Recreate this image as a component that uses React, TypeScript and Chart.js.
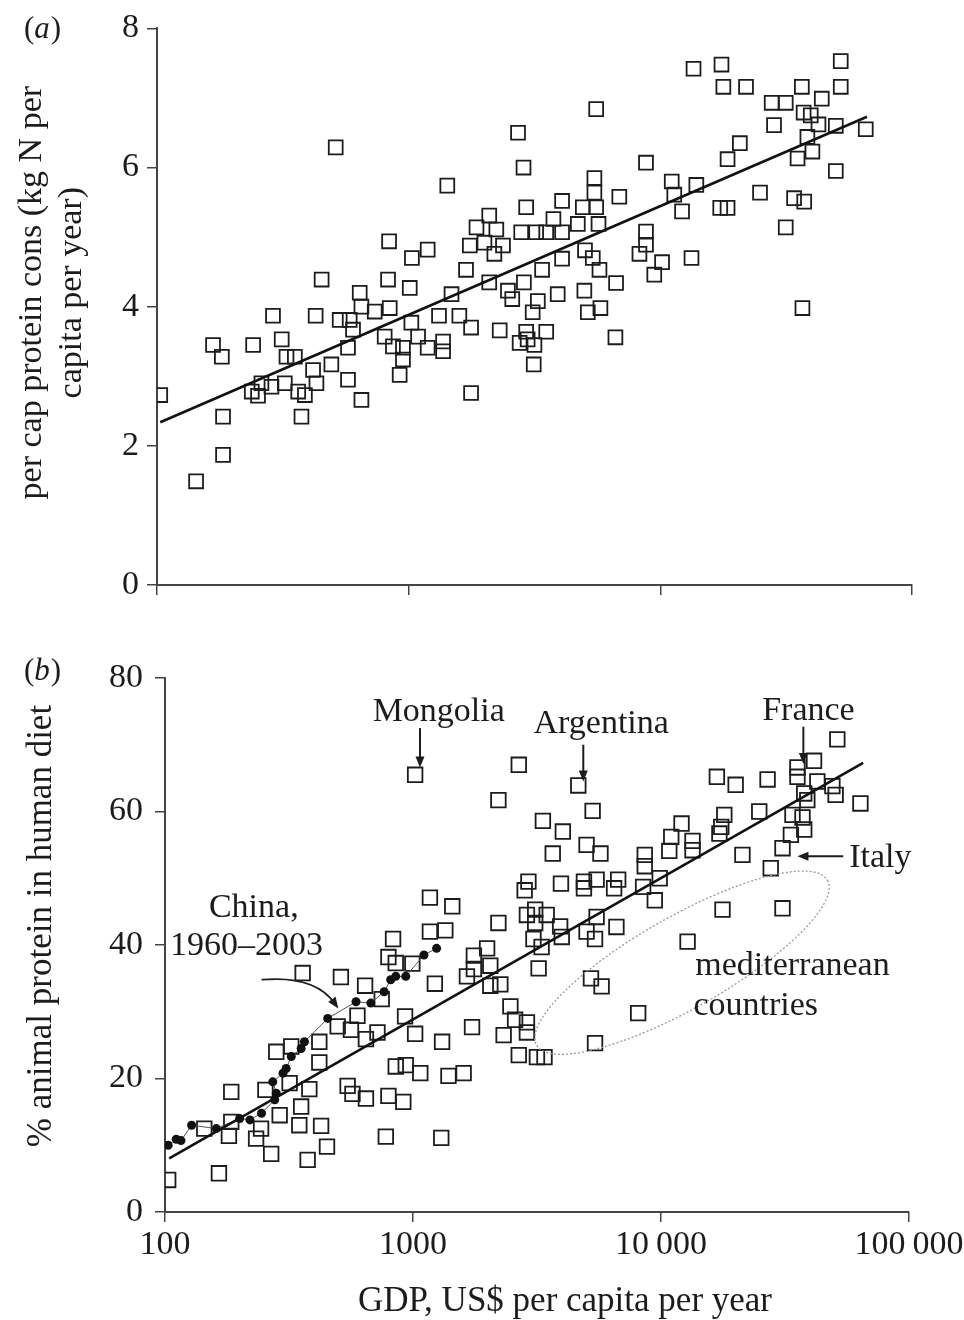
import React, { useEffect, useRef } from "react";
import { Chart, registerables } from "chart.js";

Chart.register(...registerables);

const FONT = "'Liberation Serif', 'Times New Roman', serif";
const INK = "#1c1c1c";
const AXIS = "#444";

// shared GDP axis (log)
const GDP_TICKS = [100, 1000, 10000, 100000];
const GDP_TICK_LABELS = ["100", "1000", "10\u2009000", "100\u2009000"];

// panel (a): per cap protein consumption, kg N per capita per year
const A_GDP = [
  513, 836, 451, 828, 639, 289, 427, 532, 649, 733, 841, 583, 601, 313, 241, 167, 181, 327, 353, 417,
  493, 574, 803, 866, 574, 430, 364, 387, 322, 285, 260, 238, 252, 649, 103, 375, 183, 183, 143,
  1010, 1025, 949, 949, 921,
  5560, 2720, 2860, 8770, 1424, 5470, 5470, 6870, 4070, 2930,
  4920, 5560, 2090, 3760, 1860, 2230, 2800, 3210, 3520, 4070,
  4700, 5680, 8770, 2000, 1750, 2370, 2190, 1030, 1190, 8770,
  8260, 5020, 5390, 4070, 1690, 3390, 5730, 9460, 2090, 2870,
  6670, 1480, 2480, 2580, 3260, 3910, 4990, 3110, 5150, 5780,
  1320, 1590, 1770, 2300, 2930, 3520, 2760, 2970, 3160, 6630,
  1090, 1190, 1370, 1370, 3140, 1770,
  13550, 17500, 17800, 21900, 52100, 52100, 36500, 27700, 31500, 43800,
  37100, 39600, 28300, 42500, 49800, 65500, 38400, 40200, 35100, 20700,
  18500, 11100, 13900, 11360, 12200, 49800, 24900, 34000, 37300, 17300,
  18500, 31500, 10160, 13300, 36700,
];
const A_PROTEIN = [
  6.29, 4.94, 4.39, 4.39, 4.2, 3.87, 3.87, 3.81, 4.0, 3.93, 3.98, 3.81, 3.67, 3.53, 3.45, 3.45, 3.28, 3.28, 3.28, 3.09,
  3.17, 3.41, 3.57, 3.43, 2.95, 2.9, 2.78, 2.73, 2.9, 2.85, 2.9, 2.78, 2.72, 2.66, 2.73, 2.42, 2.42, 1.87, 1.49,
  4.27, 3.77, 3.41, 3.24, 3.02,
  6.84, 6.5, 6.0, 6.07, 5.74, 5.85, 5.64, 5.58, 5.52, 5.43,
  5.43, 5.43, 5.31, 5.26, 5.14, 5.11, 5.07, 5.07, 5.07, 5.07,
  5.19, 5.19, 5.08, 4.92, 4.88, 4.88, 4.76, 4.7, 4.82, 4.89,
  4.76, 4.81, 4.7, 4.69, 4.53, 4.53, 4.53, 4.46, 4.35, 4.35,
  4.34, 4.18, 4.23, 4.11, 4.08, 4.18, 4.23, 3.92, 3.92, 3.98,
  3.87, 3.87, 3.7, 3.66, 3.64, 3.64, 3.48, 3.53, 3.45, 3.56,
  3.57, 3.41, 3.5, 3.36, 3.17, 2.76,
  7.42, 7.48, 7.16, 7.16, 7.53, 7.16, 7.16, 6.93, 6.93, 6.99,
  6.79, 6.75, 6.61, 6.62, 6.6, 6.55, 6.44, 6.23, 6.13, 6.35,
  6.12, 5.8, 5.75, 5.61, 5.37, 5.95, 5.64, 5.56, 5.51, 5.42,
  5.42, 5.14, 4.64, 4.7, 3.98,
];
const A_FIT_GDP = [103, 66250];
const A_FIT_PROTEIN = [2.34, 6.73];

// panel (b): % animal protein in human diet
const B_GDP = [
  1170, 1440, 1170, 1350, 831, 796, 852, 994, 359, 512,
  641, 1225, 748, 597, 497, 562, 929, 719, 646, 1020,
  1310, 419, 281, 323, 419, 852, 935, 1070, 1390, 318,
  254, 382, 185, 545, 570, 646, 796, 914, 354, 290,
  348, 426, 244, 185, 144, 181, 233, 268, 376, 450,
  777, 1300, 165, 103,
  1020,
  2670, 4640, 2210, 5300, 3340, 4020, 5010, 5700, 3660, 8600,
  8600, 10800, 11000, 2920, 2820, 3950, 4890, 5500, 4890, 6720,
  6470, 8470, 9880, 9440, 3110, 2880, 3460, 5500, 6610, 2210,
  3110, 3920, 3980, 3060, 3300, 5010, 5420, 1990, 1760, 1760,
  2050, 1650, 2050, 2250, 3210, 5220, 5760, 8090, 2470, 2580,
  2880, 2880, 1730, 2320, 2670, 3160, 3390, 5420, 1600,
  51400, 41400, 35500, 35500, 16800, 20000, 26900, 42700, 49100, 50600,
  63700, 37800, 38900, 33900, 37200, 37800, 33400, 30900, 24900, 18000,
  17500, 17200, 12100, 13400, 13400, 21300, 27700, 17700, 30900, 12800,
];
const B_ANIMAL = [
  47.1, 45.8, 42.0, 42.2, 40.9, 38.2, 37.3, 37.2, 35.8, 35.2,
  33.9, 34.2, 31.9, 29.4, 27.8, 27.3, 29.3, 26.9, 25.9, 26.7,
  25.5, 25.5, 24.0, 24.8, 22.4, 21.8, 22.0, 20.8, 20.4, 19.3,
  18.3, 18.4, 18.0, 18.9, 17.7, 17.0, 17.4, 16.5, 15.8, 14.5,
  13.0, 12.9, 12.5, 13.5, 12.5, 11.4, 11.0, 8.7, 7.8, 9.8,
  11.3, 11.1, 5.8, 4.8,
  65.5,
  67.0, 63.9, 61.7, 60.1, 58.6, 57.0, 55.0, 53.7, 53.7, 53.5,
  51.8, 54.1, 56.2, 49.5, 48.2, 49.2, 49.5, 49.8, 48.5, 49.8,
  48.5, 48.7, 50.0, 46.7, 45.3, 44.5, 44.5, 44.2, 42.7, 43.3,
  43.3, 42.8, 41.2, 40.9, 39.7, 42.0, 40.9, 39.5, 38.4, 36.4,
  36.9, 35.3, 33.9, 34.1, 36.5, 35.0, 33.8, 29.8, 30.8, 28.8,
  28.4, 26.9, 27.7, 26.5, 23.5, 23.2, 23.2, 25.3, 20.8,
  70.8, 67.6, 66.6, 65.2, 65.2, 64.0, 64.8, 64.5, 63.8, 62.5,
  61.2, 62.7, 61.7, 59.5, 59.1, 57.3, 56.5, 54.5, 60.0, 59.5,
  57.7, 56.7, 58.2, 55.6, 54.2, 53.5, 51.5, 45.3, 45.5, 40.5,
];
const B_FIT_GDP = [104, 65300];
const B_FIT_ANIMAL = [8.05, 67.3];

// China, 1960-2003
const CHINA_GDP = [
  103, 111, 116, 128, 161, 200, 220, 245, 277, 281, 272, 299, 308, 323, 354, 365, 453, 589, 676, 765,
  813, 852, 935, 1107, 1245,
];
const CHINA_ANIMAL = [
  10.0, 10.9, 10.7, 13.0, 12.5, 14.0, 13.8, 14.8, 16.8, 17.8, 19.5, 20.8, 21.5, 23.3, 24.5, 25.5, 29.0,
  31.5, 31.3, 33.0, 34.8, 35.3, 35.3, 38.5, 39.5,
];

// annotations of panel (b), anchored in data coordinates [gdp, %]
const B_NOTES = [
  { text: "Mongolia", at: [1270, 74.9], align: "center" },
  { text: "Argentina", at: [5740, 73.1], align: "center" },
  { text: "France", at: [39300, 75.1], align: "center" },
  { text: "Italy", at: [57400, 53.0], align: "left" },
  { text: "China,", at: [228, 45.5], align: "center" },
  { text: "1960\u20132003", at: [213, 39.9], align: "center" },
  { text: "mediterranean", at: [33900, 36.9], align: "center" },
  { text: "countries", at: [24100, 30.9], align: "center" },
];
const B_ARROWS = [
  { from: [1067, 72.5], to: [1067, 66.6] },
  { from: [4860, 70.0], to: [4860, 64.5] },
  { from: [37500, 72.7], to: [37500, 67.1] },
  { from: [54300, 53.3], to: [35500, 53.3] },
];
const CHINA_ARROW = { from: [245, 34.8], via: [400, 35.5], to: [500, 30.5] };
const MED_ELLIPSE = { from: [3150, 25.0], to: [46900, 49.7] };

// axis titles
const A_Y_TITLE = ["per cap protein cons (kg N per", "capita per year)"];
const B_Y_TITLE = "% animal protein in human diet";
const X_TITLE = "GDP, US$ per capita per year";

const toPoints = (xs: number[], ys: number[]) => xs.map((x, i) => ({ x, y: ys[i] }));

function gdpAxis(showLabels: boolean, height: number) {
  return {
    type: "logarithmic",
    min: 100,
    max: 100000,
    afterBuildTicks: (s: any) => {
      s.ticks = GDP_TICKS.map((v) => ({ value: v }));
    },
    afterFit: (s: any) => {
      s.height = height;
      s.paddingLeft = 0;
      s.paddingRight = 0;
    },
    grid: { drawOnChartArea: false, drawTicks: true, tickLength: 10, color: AXIS, lineWidth: 1.5 },
    border: { display: true, color: AXIS, width: 2 },
    ticks: {
      autoSkip: false,
      maxRotation: 0,
      padding: 3,
      color: INK,
      font: { family: FONT, size: 34 },
      callback: (v: any) => (showLabels ? GDP_TICK_LABELS[GDP_TICKS.indexOf(Number(v))] ?? "" : ""),
    },
  };
}

function valueAxis(max: number, step: number, width: number, tickPad: number) {
  return {
    type: "linear",
    min: 0,
    max,
    afterFit: (s: any) => {
      s.width = width;
    },
    grid: { drawOnChartArea: false, drawTicks: true, tickLength: 10, color: AXIS, lineWidth: 1.5 },
    border: { display: true, color: AXIS, width: 2 },
    ticks: { stepSize: step, padding: tickPad, color: INK, font: { family: FONT, size: 34 } },
  };
}

// panel letter and axis titles, placed relative to the chart area
const frameText = (letter: string, letterY: number, yTitle: string | string[], yTitleX: number, yShift: number, xTitle: boolean) => ({
  id: "frameText",
  afterDraw(chart: any) {
    const { ctx, chartArea } = chart;
    ctx.save();
    ctx.fillStyle = INK;
    ctx.textBaseline = "middle";

    // (a) / (b)
    ctx.textAlign = "left";
    let cx = 24;
    ctx.font = `31px ${FONT}`;
    ctx.fillText("(", cx, letterY);
    cx += ctx.measureText("(").width;
    ctx.font = `italic 31px ${FONT}`;
    ctx.fillText(letter, cx, letterY);
    cx += ctx.measureText(letter).width + 1;
    ctx.font = `31px ${FONT}`;
    ctx.fillText(")", cx, letterY);

    // y title
    const lines = Array.isArray(yTitle) ? yTitle : [yTitle];
    ctx.font = `${lines.length > 1 ? 34 : 35}px ${FONT}`;
    ctx.textAlign = "center";
    const cy = (chartArea.top + chartArea.bottom) / 2 + yShift;
    lines.forEach((line, i) => {
      ctx.save();
      ctx.translate(yTitleX + i * 40, cy);
      ctx.rotate(-Math.PI / 2);
      ctx.fillText(line, 0, 0);
      ctx.restore();
    });

    // x title
    if (xTitle) {
      ctx.font = `35px ${FONT}`;
      ctx.fillText(X_TITLE, (chartArea.left + chartArea.right) / 2 + 28, chart.height - 18);
    }
    ctx.restore();
  },
});

function arrowHead(ctx: any, x: number, y: number, angle: number) {
  const len = 11;
  const half = 4.5;
  ctx.beginPath();
  ctx.moveTo(x, y);
  ctx.lineTo(x - len * Math.cos(angle) + half * Math.sin(angle), y - len * Math.sin(angle) - half * Math.cos(angle));
  ctx.lineTo(x - len * Math.cos(angle) - half * Math.sin(angle), y - len * Math.sin(angle) + half * Math.cos(angle));
  ctx.closePath();
  ctx.fill();
}

const notesPlugin = {
  id: "notes",
  afterDatasetsDraw(chart: any) {
    const { ctx, scales } = chart;
    const px = (p: number[]) => [scales.x.getPixelForValue(p[0]), scales.y.getPixelForValue(p[1])];
    ctx.save();

    // mediterranean ellipse
    const [ex1, ey1] = px(MED_ELLIPSE.from);
    const [ex2, ey2] = px(MED_ELLIPSE.to);
    ctx.strokeStyle = "#9a9a9a";
    ctx.lineWidth = 1.3;
    ctx.setLineDash([2, 2]);
    ctx.beginPath();
    ctx.ellipse(
      (ex1 + ex2) / 2,
      (ey1 + ey2) / 2,
      Math.hypot(ex2 - ex1, ey2 - ey1) / 2,
      46,
      Math.atan2(ey2 - ey1, ex2 - ex1),
      0,
      Math.PI * 2
    );
    ctx.stroke();
    ctx.setLineDash([]);

    // straight arrows
    ctx.strokeStyle = INK;
    ctx.fillStyle = INK;
    ctx.lineWidth = 2;
    B_ARROWS.forEach((a) => {
      const [x1, y1] = px(a.from);
      const [x2, y2] = px(a.to);
      const ang = Math.atan2(y2 - y1, x2 - x1);
      ctx.beginPath();
      ctx.moveTo(x1, y1);
      ctx.lineTo(x2 - 8 * Math.cos(ang), y2 - 8 * Math.sin(ang));
      ctx.stroke();
      arrowHead(ctx, x2, y2, ang);
    });

    // curved China arrow
    const [c1x, c1y] = px(CHINA_ARROW.from);
    const [cvx, cvy] = px(CHINA_ARROW.via);
    const [c2x, c2y] = px(CHINA_ARROW.to);
    const cang = Math.atan2(c2y - cvy, c2x - cvx);
    ctx.lineWidth = 1.8;
    ctx.beginPath();
    ctx.moveTo(c1x, c1y);
    ctx.quadraticCurveTo(cvx, cvy, c2x - 7 * Math.cos(cang), c2y - 7 * Math.sin(cang));
    ctx.stroke();
    arrowHead(ctx, c2x, c2y, cang);

    // labels
    ctx.font = `34px ${FONT}`;
    ctx.textBaseline = "middle";
    B_NOTES.forEach((n) => {
      const [x, y] = px(n.at);
      ctx.textAlign = n.align;
      ctx.fillText(n.text, x, y);
    });
    ctx.restore();
  },
};

const squares = (data: any[], radius: number) => ({
  data,
  pointStyle: "rect",
  pointRadius: radius,
  borderColor: INK,
  backgroundColor: "rgba(0,0,0,0)",
  pointBorderWidth: 1.8,
  showLine: false,
});

const fitLine = (data: any[]) => ({
  data,
  showLine: true,
  borderColor: "#111",
  borderWidth: 2.6,
  pointRadius: 0,
});

const App: React.FC = () => {
  const topRef = useRef<HTMLCanvasElement | null>(null);
  const bottomRef = useRef<HTMLCanvasElement | null>(null);

  useEffect(() => {
    if (!topRef.current || !bottomRef.current) return;

    const top = new Chart(topRef.current, {
      type: "scatter",
      data: {
        datasets: [
          fitLine(toPoints(A_FIT_GDP, A_FIT_PROTEIN)),
          squares(toPoints(A_GDP, A_PROTEIN), 9.8),
        ] as any,
      },
      options: {
        responsive: false,
        animation: false,
        layout: { padding: { left: 0, right: 52, top: 28, bottom: 0 } },
        plugins: { legend: { display: false }, tooltip: { enabled: false } },
        scales: {
          x: gdpAxis(false, 55),
          y: valueAxis(8, 2, 157, 8),
        } as any,
      },
      plugins: [frameText("a", 30, A_Y_TITLE, 32, -14, false)],
    });

    const bottom = new Chart(bottomRef.current, {
      type: "scatter",
      data: {
        datasets: [
          fitLine(toPoints(B_FIT_GDP, B_FIT_ANIMAL)),
          {
            data: toPoints(CHINA_GDP, CHINA_ANIMAL),
            showLine: true,
            borderColor: "#555",
            borderWidth: 1,
            pointStyle: "circle",
            pointRadius: 4.5,
            pointBackgroundColor: "#111",
            pointBorderColor: "#111",
            pointBorderWidth: 0,
          },
          squares(toPoints(B_GDP, B_ANIMAL), 10.3),
        ] as any,
      },
      options: {
        responsive: false,
        animation: false,
        layout: { padding: { left: 0, right: 55, top: 38, bottom: 0 } },
        plugins: { legend: { display: false }, tooltip: { enabled: false } },
        scales: {
          x: gdpAxis(true, 108),
          y: valueAxis(80, 20, 165, 12),
        } as any,
      },
      plugins: [frameText("b", 32, B_Y_TITLE, 42, -19, true), notesPlugin],
    });

    return () => {
      top.destroy();
      bottom.destroy();
    };
  }, []);

  return (
    <div style={{ position: "absolute", left: 0, top: 0, width: 964, height: 1320, background: "#fff" }}>
      <canvas ref={topRef} width={964} height={640} style={{ display: "block" }} />
      <canvas ref={bottomRef} width={964} height={680} style={{ display: "block" }} />
    </div>
  );
};

export default App;
